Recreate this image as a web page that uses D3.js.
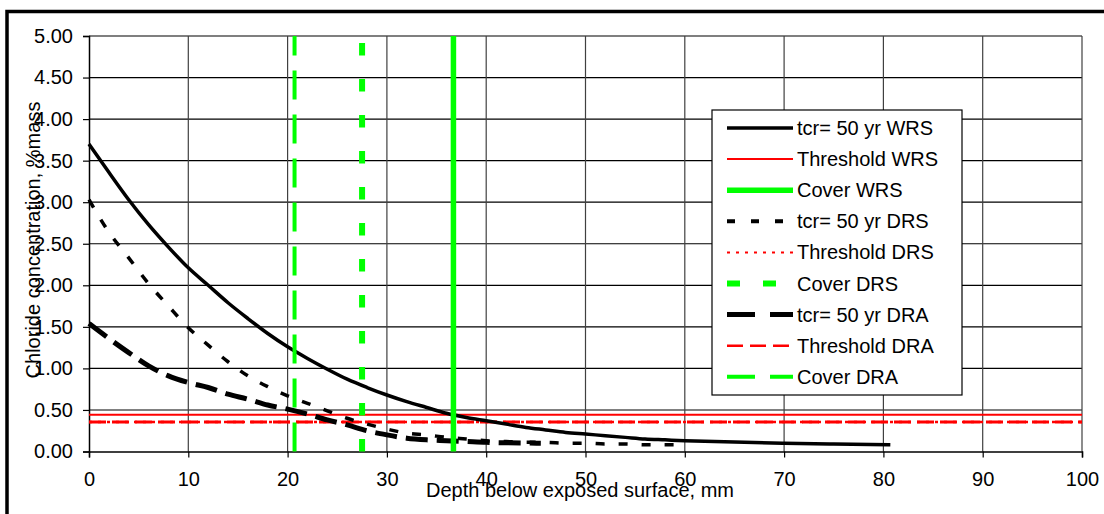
<!DOCTYPE html>
<html>
<head>
<meta charset="utf-8">
<script src="https://cdn.jsdelivr.net/npm/d3@7"></script>
<style>
  html, body { margin: 0; padding: 0; background: #fff; }
  svg { display: block; font-family: "Liberation Sans", Arial, sans-serif; }
</style>
</head>
<body>
<svg id="chart" width="1104" height="514"></svg>
<script>
// ---- Data ----
const xTicks = [0, 10, 20, 30, 40, 50, 60, 70, 80, 90, 100];
const yTicks = [0, 0.5, 1, 1.5, 2, 2.5, 3, 3.5, 4, 4.5, 5];

const depthWRS = [0,2,4,6,8,10,12,14,16,18,20,22,24,26,28,30,32,34,36,38,40,42,44,46,48,50,52,54,56,58,60,63,66,70,75,80.7];
const clWRS    = [3.70,3.36,3.03,2.73,2.46,2.21,2.00,1.79,1.60,1.42,1.26,1.12,0.99,0.87,0.77,0.68,0.60,0.53,0.46,0.41,0.37,0.33,0.29,0.26,0.23,0.21,0.19,0.17,0.15,0.14,0.13,0.12,0.11,0.10,0.09,0.08];

const depthDRS = [0,2,4,6,8,10,12,14,16,18,20,22,24,26,28,30,32,34,36,38,40,42,44,46,48,50,52,54,56,58,60];
const clDRS    = [3.03,2.64,2.33,2.02,1.75,1.49,1.28,1.08,0.91,0.78,0.67,0.58,0.49,0.40,0.33,0.27,0.22,0.20,0.17,0.15,0.13,0.12,0.11,0.11,0.10,0.10,0.09,0.09,0.08,0.08,0.08];

const depthDRA = [0,2,4,6,8,10,12,14,16,18,20,22,24,26,28,30,32,34,36,38,40,42,45.5];
const clDRA    = [1.54,1.36,1.19,1.03,0.91,0.83,0.77,0.69,0.63,0.56,0.51,0.45,0.38,0.32,0.25,0.20,0.16,0.14,0.13,0.12,0.11,0.105,0.10];

const thresholdWRS = 0.443;
const thresholdDRS = 0.355;
const thresholdDRA = 0.355;
const coverWRS = 36.7;
const coverDRS = 27.5;
const coverDRA = 20.7;

const legendLabels = ["tcr= 50 yr WRS","Threshold WRS","Cover WRS","tcr= 50 yr DRS","Threshold DRS","Cover DRS","tcr= 50 yr DRA","Threshold DRA","Cover DRA"];

// ---- Styles ----
const styles = {
  curveWRS:  {stroke:"#000", width:3.5, dash:null},
  thrWRS:    {stroke:"#ff0000", width:2, dash:null},
  covWRS:    {stroke:"#00ff00", width:5.5, dash:null},
  curveDRS:  {stroke:"#000", width:3.5, dash:"9,14"},
  thrDRS:    {stroke:"#ff0000", width:2.5, dash:"3,6"},
  covDRS:    {stroke:"#00ff00", width:6, dash:"12.5,23.5"},
  curveDRA:  {stroke:"#000", width:5, dash:"22,9"},
  thrDRA:    {stroke:"#ff0000", width:3, dash:"17,6"},
  covDRA:    {stroke:"#00ff00", width:4, dash:"29,15"}
};
const legendStyles = [
  {stroke:"#000", width:3.5, dash:null}, styles.thrWRS, styles.covWRS,
  {stroke:"#000", width:4, dash:"8,16"}, {stroke:"#ff0000", width:2, dash:"3,6"}, {stroke:"#00ff00", width:6, dash:"13,23"},
  {stroke:"#000", width:5, dash:"28,15"}, {stroke:"#ff0000", width:2.5, dash:"16,7"}, {stroke:"#00ff00", width:4, dash:"28,15"}
];

// ---- Layout ----
const svg = d3.select("#chart");
const x = d3.scaleLinear().domain([0, 100]).range([89, 1082]);
const y = d3.scaleLinear().domain([0, 5]).range([451.5, 36]);

// outer frame
svg.append("rect").attr("x", 7).attr("y", 11.5).attr("width", 1200).attr("height", 600)
  .attr("fill", "#fff").attr("stroke", "#000").attr("stroke-width", 3.5);

// gridlines
const grid = svg.append("g");
grid.selectAll("line.h").data(yTicks.filter(d => d > 0)).enter().append("line")
  .attr("x1", x(0)).attr("x2", x(100))
  .attr("y1", d => y(d)).attr("y2", d => y(d))
  .attr("stroke", d => d === 0.5 ? "#808080" : "#000")
  .attr("stroke-width", d => d === 0.5 ? 2 : 1.2);
grid.selectAll("line.v").data(xTicks.filter(d => d > 0)).enter().append("line")
  .attr("x1", d => x(d)).attr("x2", d => x(d))
  .attr("y1", y(0)).attr("y2", y(5))
  .attr("stroke", "#404040").attr("stroke-width", 1.2);

// axes
const xAxis = d3.axisBottom(x).tickValues(xTicks).tickSize(6).tickPadding(14).tickFormat(d3.format("d"));
const yAxis = d3.axisLeft(y).tickValues(yTicks).tickSize(6).tickPadding(10).tickFormat(d3.format(".2f"));
const gx = svg.append("g").attr("transform", `translate(0,${y(0)})`).call(xAxis);
const gy = svg.append("g").attr("transform", `translate(${x(0)},0)`).call(yAxis);
[gx, gy].forEach(g => {
  g.select(".domain").attr("stroke", "#000").attr("stroke-width", 1.5);
  g.selectAll(".tick line").attr("stroke", "#000").attr("stroke-width", 1.2);
  g.selectAll(".tick text").attr("fill", "#000").style("font-size", "20px")
    .style("font-family", '"Liberation Sans", Arial, sans-serif');
});

function applyStyle(sel, s) {
  sel.attr("fill", "none").attr("stroke", s.stroke).attr("stroke-width", s.width);
  if (s.dash) sel.attr("stroke-dasharray", s.dash);
  return sel;
}

// threshold lines
applyStyle(svg.append("line").attr("x1", x(0)).attr("x2", x(100)).attr("y1", y(thresholdDRA)).attr("y2", y(thresholdDRA)), styles.thrDRA);
applyStyle(svg.append("line").attr("x1", x(0)).attr("x2", x(100)).attr("y1", y(thresholdDRS)).attr("y2", y(thresholdDRS)), styles.thrDRS);
applyStyle(svg.append("line").attr("x1", x(0)).attr("x2", x(100)).attr("y1", y(thresholdWRS)).attr("y2", y(thresholdWRS)), styles.thrWRS);

// curves
const line = d3.line().x(d => x(d[0])).y(d => y(d[1])).curve(d3.curveMonotoneX);
applyStyle(svg.append("path").attr("d", line(d3.zip(depthDRA, clDRA))), styles.curveDRA);
applyStyle(svg.append("path").attr("d", line(d3.zip(depthDRS, clDRS))), styles.curveDRS);
applyStyle(svg.append("path").attr("d", line(d3.zip(depthWRS, clWRS))), styles.curveWRS);

// cover lines (drawn from bottom to top)
[[coverWRS, styles.covWRS], [coverDRS, styles.covDRS], [coverDRA, styles.covDRA]].forEach(([c, s]) => {
  applyStyle(svg.append("line").attr("x1", x(c)).attr("x2", x(c)).attr("y1", y(0)).attr("y2", y(5)), s);
});

// axis titles
svg.append("text").attr("x", 580).attr("y", 497).attr("text-anchor", "middle")
  .style("font-size", "20px").text("Depth below exposed surface, mm");
svg.append("text").attr("transform", "translate(40,240) rotate(-90)").attr("text-anchor", "middle")
  .style("font-size", "20px").text("Chloride concentration, %mass");

// legend
const lg = svg.append("g");
lg.append("rect").attr("x", 712).attr("y", 110).attr("width", 250).attr("height", 285)
  .attr("fill", "#fff").attr("stroke", "#000").attr("stroke-width", 1.2);
legendLabels.forEach((lab, i) => {
  const cy = 128 + i * 31.1;
  applyStyle(lg.append("line").attr("x1", 727).attr("x2", 793).attr("y1", cy).attr("y2", cy), legendStyles[i]);
  lg.append("text").attr("x", 797).attr("y", cy + 7).style("font-size", "20px").text(lab);
});
</script>
</body>
</html>
